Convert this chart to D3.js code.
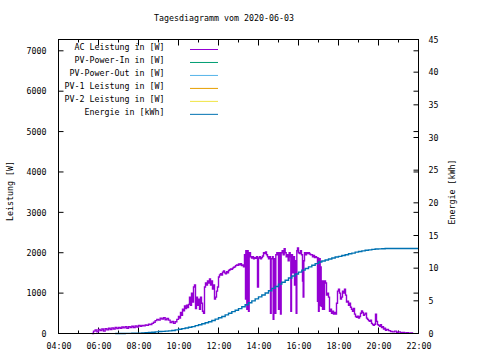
<!DOCTYPE html>
<html><head><meta charset="utf-8">
<script src="https://cdn.jsdelivr.net/npm/d3@7"></script>
<style>
body{margin:0;background:#fff}
svg{display:block}
text{font-family:"DejaVu Sans Mono",monospace;font-size:8.3px;fill:#000}
</style>
</head><body>
<svg id="c" width="480" height="360"></svg>
<script>
const title = "Tagesdiagramm vom 2020-06-03";
const yLabel = "Leistung [W]";
const y2Label = "Energie [kWh]";
const seriesNames = ["AC Leistung in [W]","PV-Power-In in [W]","PV-Power-Out in [W]","PV-1 Leistung in [W]","PV-2 Leistung in [W]","Energie in [kWh]"];
const seriesColors = ["#9400d3","#009e73","#56b4e9","#e69f00","#f0e442","#0072b2"];
const xTickLabels = ["04:00","06:00","08:00","10:00","12:00","14:00","16:00","18:00","20:00","22:00"];
const yTicks = [0,1000,2000,3000,4000,5000,6000,7000];
const y2Ticks = [0,5,10,15,20,25,30,35,40,45];

const acTimes = ["05:40","05:45","05:50","05:55","06:00","06:05","06:10","06:15","06:20","06:25","06:30","06:35","06:40","06:45","06:50","06:55",
"07:00","07:05","07:10","07:15","07:20","07:25","07:30","07:35","07:40","07:45","07:50","07:55",
"08:00","08:05","08:10","08:15","08:20","08:25","08:30","08:35","08:40","08:45","08:50","08:55",
"09:00","09:05","09:10","09:15","09:20","09:25","09:30","09:35","09:40","09:45","09:50","09:55",
"10:00","10:03","10:06","10:09","10:12","10:15","10:18","10:21","10:24","10:27","10:30","10:33","10:36","10:39","10:42","10:45","10:48","10:51","10:54","10:57",
"11:00","11:03","11:06","11:09","11:12","11:15","11:18","11:21","11:24","11:27","11:30","11:33","11:36","11:39","11:42","11:45","11:48","11:51","11:54","11:57",
"12:00","12:03","12:06","12:09","12:12","12:15","12:18","12:21","12:24","12:27","12:30","12:33","12:36","12:39","12:42","12:45","12:48","12:51","12:54","12:57",
"13:00","13:03","13:06","13:09","13:12","13:15","13:18","13:21","13:22","13:24","13:25","13:27","13:29","13:30","13:32","13:36","13:39","13:42","13:45","13:48","13:51","13:54","13:57",
"14:00","14:03","14:06","14:09","14:12","14:15","14:18","14:21","14:24","14:27","14:30","14:33","14:36","14:38","14:42","14:44","14:46","14:48","14:50","14:52","14:55","14:58",
"15:00","15:02","15:05","15:06","15:08","15:11","15:14","15:17","15:20","15:23","15:26","15:29","15:32","15:35","15:37","15:39","15:42","15:45","15:48","15:51","15:53","15:55","15:57",
"16:00","16:03","16:06","16:09","16:12","16:14","16:16","16:18","16:21","16:24","16:27","16:30","16:33","16:36","16:39","16:42","16:45","16:48","16:51","16:54","16:57","16:58",
"17:00","17:02","17:05","17:06","17:08","17:10","17:12","17:14","17:16","17:18","17:21","17:24","17:27","17:30","17:33","17:36","17:39","17:42","17:45","17:48","17:51","17:54","17:57",
"18:00","18:03","18:06","18:09","18:12","18:15","18:18","18:21","18:24","18:27","18:30","18:33","18:36","18:39","18:42","18:45","18:48","18:51","18:54","18:57",
"19:00","19:03","19:06","19:09","19:12","19:15","19:18","19:21","19:24","19:27","19:30","19:33","19:36","19:39","19:42","19:45","19:48","19:51","19:54","19:57",
"20:00","20:03","20:06","20:09","20:12","20:15","20:18","20:21","20:24","20:30","20:36","20:42","20:48","20:54",
"21:00","21:06","21:12","21:18","21:24","21:30","21:36","21:42"];
const acValues = [0,60,90,40,100,70,110,60,120,90,130,100,140,110,150,120,
150,130,160,140,170,130,170,150,180,150,190,160,
200,180,200,190,210,200,230,220,250,280,320,350,
330,380,360,390,340,370,330,270,300,250,290,350,
420,380,520,450,600,560,680,620,700,640,720,900,700,1000,780,1150,1200,620,900,700,
850,600,900,750,550,500,1150,1250,1200,1300,1250,1350,1200,1300,1100,1200,850,900,1050,1150,
1400,1450,1480,1450,1520,1550,1500,1480,1530,1500,1560,1580,1600,1590,1620,1640,1650,1680,1700,1690,
1720,1700,1730,1680,1700,1650,1950,850,2050,1950,600,2050,750,550,2000,1900,1870,1900,1850,1880,1860,1900,1150,
1870,1900,1850,1880,1920,2000,1980,2020,1950,1900,1850,1900,500,1850,1900,350,1800,1850,500,1950,2000,1950,
600,2000,1950,480,2000,2050,1950,2100,2000,1900,1950,1800,2000,1900,550,1950,1500,1900,1200,1800,500,2050,2120,
2000,1980,2050,1950,1300,900,1800,2000,1950,2000,1980,2000,1970,1950,1950,1900,1930,1880,1900,1880,800,1870,
550,1850,700,1650,675,1300,600,1300,600,1300,1250,950,1000,900,550,600,500,550,480,520,480,750,1050,
1100,1000,850,900,1050,1000,1100,950,780,800,700,750,650,600,550,620,480,420,400,430,
380,420,500,560,520,450,480,500,380,350,320,300,330,250,220,200,230,480,300,220,
200,180,220,150,170,110,130,80,100,70,50,40,60,30,
40,20,25,15,20,10,15,0];

const energyTimes = ["06:50","07:00","07:10","07:20","07:30","07:40","07:50",
"08:00","08:10","08:20","08:30","08:40","08:50","09:00","09:10","09:20","09:30","09:40","09:50",
"10:00","10:10","10:20","10:30","10:40","10:50","11:00","11:10","11:20","11:30","11:40","11:50",
"12:00","12:10","12:20","12:30","12:40","12:50","13:00","13:10","13:20","13:30","13:40","13:50",
"14:00","14:10","14:20","14:30","14:40","14:50","15:00","15:10","15:20","15:30","15:40","15:50",
"16:00","16:10","16:20","16:30","16:40","16:50","17:00","17:10","17:20","17:30","17:40","17:50",
"18:00","18:10","18:20","18:30","18:40","18:50","19:00","19:10","19:20","19:30","19:40","19:50",
"20:00","20:10","20:20","20:30","22:00"];
const energyValues = [0,0,0.01,0.02,0.02,0.03,0.04,
0.05,0.08,0.11,0.15,0.2,0.25,0.3,0.33,0.37,0.4,0.46,0.55,
0.65,0.75,0.85,0.95,1.05,1.2,1.35,1.5,1.65,1.8,2.0,2.2,
2.4,2.6,2.85,3.1,3.35,3.55,3.8,4.1,4.4,4.7,5.0,5.3,
5.6,5.9,6.2,6.55,6.9,7.2,7.55,7.85,8.15,8.5,8.8,9.1,
9.4,9.7,9.95,10.2,10.45,10.7,10.95,11.1,11.25,11.4,11.55,11.7,
11.8,11.95,12.05,12.2,12.3,12.45,12.55,12.65,12.75,12.8,12.88,12.93,
12.96,12.98,13.0,13.0,13.0];

const toH = s => { const [h,m] = s.split(":").map(Number); return h + m/60; };
const acData = acTimes.map((t,i)=>({x:toH(t), y:acValues[i]}));
const enData = energyTimes.map((t,i)=>({x:toH(t), y:energyValues[i]}));

const L = 58.5, R = 418.5, T = 39.5, B = 333.5;
const svg = d3.select("#c");
const x = d3.scaleLinear().domain([toH(xTickLabels[0]), toH(xTickLabels[xTickLabels.length-1])]).range([L, R]);
const y = d3.scaleLinear().domain([0, 7280]).range([B, T]);
const y2 = d3.scaleLinear().domain([0, 45]).range([B, T]);

// title
svg.append("text").attr("x", 224).attr("y", 21).attr("text-anchor","middle").text(title);

// tick marks
const hours = d3.range(4, 23, 1);
const tk = svg.append("g").attr("stroke","#000").attr("stroke-width",1);
hours.forEach(h => {
  const len = (h % 2 === 0) ? 6 : 3;
  tk.append("line").attr("x1",x(h)).attr("x2",x(h)).attr("y1",B).attr("y2",B-len);
  tk.append("line").attr("x1",x(h)).attr("x2",x(h)).attr("y1",T).attr("y2",T+len);
});
yTicks.forEach(v => {
  tk.append("line").attr("x1",L).attr("x2",L+5).attr("y1",y(v)).attr("y2",y(v));
  tk.append("line").attr("x1",R).attr("x2",R-5).attr("y1",y(v)).attr("y2",y(v));
});
y2Ticks.forEach(v => {
  tk.append("line").attr("x1",R).attr("x2",R-5).attr("y1",y2(v)).attr("y2",y2(v));
});

// axes labels via d3 axes (no domain)
const ax = svg.append("g").attr("transform",`translate(0,${B})`)
  .call(d3.axisBottom(x).tickValues(xTickLabels.map(toH)).tickFormat((d,i)=>xTickLabels[i]).tickSize(0).tickPadding(10));
const ay = svg.append("g").attr("transform",`translate(${L},0)`)
  .call(d3.axisLeft(y).tickValues(yTicks).tickSize(0).tickPadding(12).tickFormat(d3.format("d")));
const ay2 = svg.append("g").attr("transform",`translate(${R},0)`)
  .call(d3.axisRight(y2).tickValues(y2Ticks).tickSize(0).tickPadding(10).tickFormat(d3.format("d")));
[ax,ay,ay2].forEach(g => {
  g.select(".domain").remove();
  g.selectAll("text").attr("font-family",null).attr("font-size",null).style("fill","#000");
});

// axis titles
svg.append("text").attr("transform","translate(13,191) rotate(-90)").attr("text-anchor","middle").text(yLabel);
svg.append("text").attr("transform","translate(455,192) rotate(-90)").attr("text-anchor","middle").text(y2Label);

// data lines
const lineAC = d3.line().x(d=>x(d.x)).y(d=>y(d.y)).curve(d3.curveStepAfter);
const lineEn = d3.line().x(d=>x(d.x)).y(d=>y2(d.y)).curve(d3.curveStepAfter);
svg.append("path").datum(acData).attr("d", lineAC).attr("fill","none").attr("stroke",seriesColors[0]).attr("stroke-width",1.4);
svg.append("path").datum(enData).attr("d", lineEn).attr("fill","none").attr("stroke",seriesColors[5]).attr("stroke-width",1.4);

// legend
const lg = svg.append("g");
seriesNames.forEach((n,i) => {
  const yy = 49.5 + 12.97*i;
  lg.append("text").attr("x",164.5).attr("y",yy+0.5).attr("text-anchor","end").text(n);
  lg.append("line").attr("x1",190).attr("x2",218).attr("y1",yy).attr("y2",yy).attr("stroke",seriesColors[i]).attr("stroke-width",1);
});

// frame
svg.append("rect").attr("x",L).attr("y",T).attr("width",R-L).attr("height",B-T).attr("fill","none").attr("stroke","#000").attr("stroke-width",1);
</script>
</body></html>
